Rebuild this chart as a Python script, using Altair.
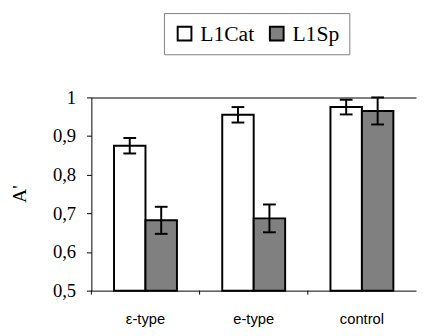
import altair as alt
import pandas as pd

categories = ["ε-type", "e-type", "control"]
series = ["L1Cat", "L1Sp"]
l1cat = [0.875, 0.955, 0.975]
l1cat_err = [0.020, 0.020, 0.019]
l1sp = [0.682, 0.687, 0.965]
l1sp_err = [0.035, 0.036, 0.035]
y_ticks = [0.5, 0.6, 0.7, 0.8, 0.9, 1.0]

SERIF = "Liberation Serif, Times New Roman, serif"
SANS = "Liberation Sans, Arial, sans-serif"

rows = []
for i, c in enumerate(categories):
    rows.append({"cat": c, "series": "L1Cat", "value": l1cat[i],
                 "lo": l1cat[i] - l1cat_err[i], "hi": l1cat[i] + l1cat_err[i]})
    rows.append({"cat": c, "series": "L1Sp", "value": l1sp[i],
                 "lo": l1sp[i] - l1sp_err[i], "hi": l1sp[i] + l1sp_err[i]})
df = pd.DataFrame(rows)
cat_df = pd.DataFrame({"cat": categories})

x_enc = alt.X("cat:N", sort=categories,
              scale=alt.Scale(domain=categories, paddingInner=0, paddingOuter=0),
              axis=alt.Axis(title=None, labelAngle=0, grid=False, ticks=False,
                            labelPadding=21))
xo_enc = alt.XOffset("series:N", sort=series,
                     scale=alt.Scale(domain=series, paddingOuter=0.72, paddingInner=0))
y_scale = alt.Scale(domain=[0.5, 1.0], zero=False, clamp=True)
y_axis = alt.Axis(
    values=y_ticks, title="A'", grid=True, gridWidth=2,
    gridColor=alt.condition("datum.value == 1", alt.value("#808080"), alt.value("transparent")),
    labelExpr="datum.value == 1 ? '1' : replace(format(datum.value, '.1f'), '.', ',')")

bars = alt.Chart(df).mark_bar(stroke="black", strokeWidth=2).encode(
    x=x_enc,
    xOffset=xo_enc,
    y=alt.Y("value:Q", scale=y_scale, axis=y_axis),
    y2=alt.datum(0.5),
    fill=alt.Fill("series:N", sort=series,
                  scale=alt.Scale(domain=series, range=["#ffffff", "#808080"]),
                  legend=alt.Legend(orient="none", legendX=74, legendY=-86,
                                    direction="horizontal", title=None)),
)

err = alt.Chart(df).mark_rule(color="black", strokeWidth=2).encode(
    x=alt.X("cat:N", sort=categories), xOffset=alt.XOffset("series:N", sort=series),
    y=alt.Y("lo:Q", axis=y_axis), y2="hi:Q")
cap_lo = alt.Chart(df).mark_tick(color="black", thickness=2, size=13, opacity=1).encode(
    x=alt.X("cat:N", sort=categories), xOffset=alt.XOffset("series:N", sort=series),
    y=alt.Y("lo:Q", axis=y_axis))
cap_hi = alt.Chart(df).mark_tick(color="black", thickness=2, size=13, opacity=1).encode(
    x=alt.X("cat:N", sort=categories), xOffset=alt.XOffset("series:N", sort=series),
    y=alt.Y("hi:Q", axis=y_axis))
sep_ticks = alt.Chart(cat_df).mark_rule(color="black", strokeWidth=1).encode(
    x=alt.X("cat:N", sort=categories, bandPosition=0),
    y=alt.value(197), y2=alt.value(201))

chart = alt.layer(bars, err, cap_lo, cap_hi, sep_ticks).properties(
    width=331, height=197,
    autosize=alt.AutoSizeParams(type="none"),
    padding={"left": 85, "top": 88, "right": 1, "bottom": 40},
).configure(font=SERIF).configure_view(
    stroke="transparent", strokeWidth=0
).configure_axis(
    domainColor="black", tickColor="black", labelColor="black",
    domainWidth=1, tickWidth=1,
).configure_axisX(
    grid=False, labelFont=SANS, labelFontSize=15, labelAngle=0,
).configure_axisY(
    labelFont=SERIF, labelFontSize=19, labelOverlap=False, labelPadding=11,
    tickSize=5, titleFont=SERIF, titleFontSize=20, titleFontWeight="normal",
    titleColor="black", titleAngle=-90, titleX=-73, titleY=98, titleAlign="center",
    titleBaseline="middle",
).configure_legend(
    symbolType="square", symbolSize=196, symbolStrokeColor="black",
    symbolStrokeWidth=2, symbolOpacity=1, labelFont=SERIF, labelFontSize=22,
    labelColor="black", strokeColor="#808080", padding=10, columnPadding=12,
    labelOffset=5,
)

chart.save("out.html", embed_options={"renderer": "svg", "actions": False})
